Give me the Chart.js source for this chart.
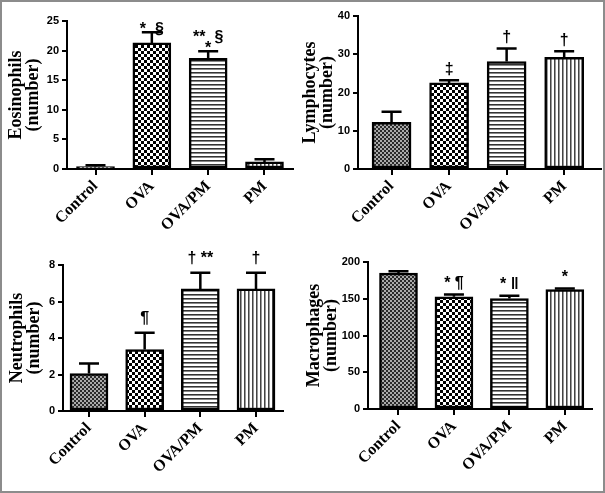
<!DOCTYPE html>
<html>
<head>
<meta charset="utf-8">
<script src="https://cdn.jsdelivr.net/npm/chart.js@4.4.0/dist/chart.umd.min.js"></script>
<style>
  html, body { margin: 0; padding: 0; background: #fff; }
  #wrap { position: relative; width: 605px; height: 493px; overflow: hidden; }
  #wrap canvas { position: absolute; }
  #frame { position: absolute; left: 0; top: 0; width: 605px; height: 493px; box-sizing: border-box; border: 2px solid #8c8c8c; pointer-events: none; z-index: 5; }
</style>
</head>
<body>
<div id="wrap">
  <canvas id="eos" width="302" height="246" style="left:0;top:0"></canvas>
  <canvas id="lym" width="303" height="246" style="left:302px;top:0"></canvas>
  <canvas id="neu" width="302" height="247" style="left:0;top:246px"></canvas>
  <canvas id="mac" width="303" height="247" style="left:302px;top:246px"></canvas>
  <div id="frame"></div>
</div>
<script>
// groups on the x axis
const groups = ['Control', 'OVA', 'OVA/PM', 'PM'];

// means and SEM
const eosMean = [0.4, 21.3, 18.7, 1.2];
const eosSem = [0.25, 1.8, 1.2, 0.45];
const lymMean = [12.2, 22.5, 28.1, 29.2];
const lymSem = [2.8, 0.7, 3.4, 1.6];
const neuMean = [2.05, 3.37, 6.69, 6.69];
const neuSem = [0.55, 0.92, 0.89, 0.89];
const macMean = [185, 152.6, 150.4, 162.6];
const macSem = [2.5, 3.2, 3.6, 1.5];

// significance marks above each bar
const eosMarks = ['', '*  §', ['**  §', '*'], ''];
const lymMarks = ['', '‡', '†', '†'];
const neuMarks = ['', '¶', '† **', '†'];
const macMarks = ['', '* ¶', '* ‖', '*'];

function makePattern(kind) {
    const c = document.createElement('canvas');
    const g = c.getContext('2d');
    if (kind === 'fine') {
        c.width = 4; c.height = 4;
        g.fillStyle = '#aaa'; g.fillRect(0, 0, 4, 4);
        g.fillStyle = '#2a2a2a'; g.fillRect(0, 0, 2, 2); g.fillRect(2, 2, 2, 2);
    } else if (kind === 'check') {
        c.width = 6; c.height = 6;
        g.fillStyle = '#fff'; g.fillRect(0, 0, 6, 6);
        g.fillStyle = '#000'; g.fillRect(0, 0, 3, 3); g.fillRect(3, 3, 3, 3);
    } else if (kind === 'hstripe') {
        c.width = 4; c.height = 4;
        g.fillStyle = '#fff'; g.fillRect(0, 0, 4, 4);
        g.fillStyle = '#333'; g.fillRect(0, 0, 4, 1);
        g.fillStyle = '#888'; g.fillRect(0, 1, 4, 1);
    } else {
        c.width = 4; c.height = 4;
        g.fillStyle = '#fff'; g.fillRect(0, 0, 4, 4);
        g.fillStyle = '#444'; g.fillRect(0, 0, 1, 4);
        g.fillStyle = '#999'; g.fillRect(1, 0, 1, 4);
    }
    return g.createPattern(c, 'repeat');
}

const fills = [makePattern('fine'), makePattern('check'), makePattern('hstripe'), makePattern('vstripe')];

// error bars (upper only) and the marks above them
const errBars = {
    id: 'errbars',
    afterDatasetsDraw(chart, args, opts) {
        const ctx = chart.ctx;
        const y = chart.scales.y;
        const meta = chart.getDatasetMeta(0);
        ctx.save();
        meta.data.forEach((bar, i) => {
            const top = y.getPixelForValue(opts.mean[i] + opts.sem[i]);
            ctx.strokeStyle = '#000';
            ctx.lineWidth = 2.5;
            ctx.beginPath();
            ctx.moveTo(bar.x, bar.y);
            ctx.lineTo(bar.x, top);
            ctx.moveTo(bar.x - 10, top);
            ctx.lineTo(bar.x + 10, top);
            ctx.stroke();

            let lines = opts.marks[i];
            if (!lines) return;
            if (!Array.isArray(lines)) lines = [lines];
            ctx.fillStyle = '#000';
            ctx.font = 'bold 16px "Liberation Sans", Arial, sans-serif';
            ctx.textAlign = 'center';
            ctx.textBaseline = 'middle';
            const n = lines.length;
            lines.forEach((t, k) => {
                ctx.fillText(t, bar.x, top - opts.gap - (n - 1 - k) * 11);
            });
        });
        ctx.restore();
    }
};

function drawPanel(id, cfg) {
    const canvas = document.getElementById(id);
    const W = canvas.width, H = canvas.height;
    new Chart(canvas, {
        type: 'bar',
        data: {
            datasets: [{
                data: groups.map((g, i) => ({ x: i, y: cfg.mean[i] })),
                backgroundColor: fills,
                borderColor: '#000',
                borderWidth: 2.5,
                borderSkipped: false,
                barThickness: cfg.barW
            }]
        },
        options: {
            responsive: false,
            animation: false,
            devicePixelRatio: 1,
            layout: { padding: { left: 0, top: cfg.T, right: W - cfg.R, bottom: 0 } },
            plugins: {
                legend: { display: false },
                tooltip: { enabled: false },
                errbars: { mean: cfg.mean, sem: cfg.sem, marks: cfg.marks, gap: cfg.gap }
            },
            scales: {
                x: {
                    type: 'linear',
                    offset: false,
                    min: cfg.xMin,
                    max: cfg.xMax,
                    ticks: {
                        stepSize: 1,
                        includeBounds: false,
                        autoSkip: false,
                        minRotation: 45,
                        maxRotation: 45,
                        padding: 2,
                        color: '#000',
                        font: { family: 'Liberation Serif', weight: 'bold', size: 16 },
                        callback: v => Number.isInteger(v) ? (groups[v] || '') : ''
                    },
                    grid: { offset: false, drawOnChartArea: false, drawTicks: true, tickLength: 6, color: '#000', lineWidth: 2 },
                    border: { color: '#000', width: 2 },
                    afterFit: s => { s.height = H - cfg.B; s.paddingLeft = 0; s.paddingRight = 0; }
                },
                y: {
                    min: 0,
                    max: cfg.yMax,
                    ticks: {
                        stepSize: cfg.yStep,
                        padding: 3,
                        color: '#000',
                        font: { family: 'Liberation Sans', weight: 'bold', size: 11 }
                    },
                    grid: { drawOnChartArea: false, drawTicks: true, tickLength: 5, color: '#000', lineWidth: 2 },
                    border: { color: '#000', width: 2 },
                    title: {
                        display: true,
                        text: [cfg.title, '(number)'],
                        color: '#000',
                        font: { family: 'Liberation Serif', weight: 'bold', size: 18, lineHeight: 0.95 },
                        padding: { top: cfg.titlePad, bottom: 0 }
                    },
                    afterFit: s => { s.width = cfg.L; s.paddingTop = 0; s.paddingBottom = 0; }
                }
            }
        },
        plugins: [errBars]
    });
}

drawPanel('eos', { mean: eosMean, sem: eosSem, marks: eosMarks, title: 'Eosinophils', yMax: 25, yStep: 5,
    L: 67, R: 293, T: 21, B: 169, xMin: -0.506, xMax: 3.506, barW: 38, titlePad: 8, gap: 3 });
drawPanel('lym', { mean: lymMean, sem: lymSem, marks: lymMarks, title: 'Lymphocytes', yMax: 40, yStep: 10,
    L: 56, R: 299, T: 16, B: 169, xMin: -0.583, xMax: 3.64, barW: 39, titlePad: 0, gap: 11 });
drawPanel('neu', { mean: neuMean, sem: neuSem, marks: neuMarks, title: 'Neutrophils', yMax: 8, yStep: 2,
    L: 63, R: 283, T: 19, B: 165, xMin: -0.467, xMax: 3.485, barW: 38, titlePad: 9, gap: 14 });
drawPanel('mac', { mean: macMean, sem: macSem, marks: macMarks, title: 'Macrophages', yMax: 200, yStep: 50,
    L: 66, R: 290, T: 16, B: 163, xMin: -0.55, xMax: 3.49, barW: 38, titlePad: 4, gap: 11 });
</script>
</body>
</html>
